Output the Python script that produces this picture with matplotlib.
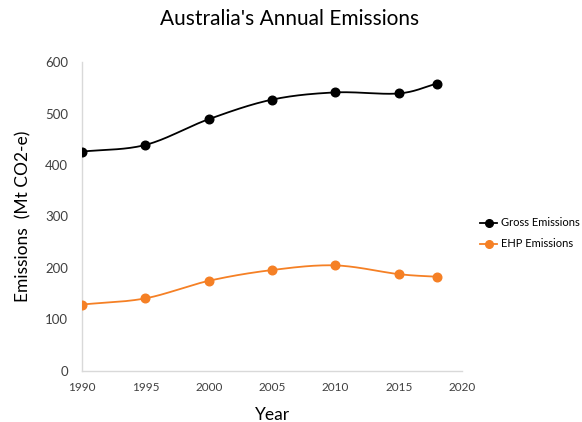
import numpy as np
import matplotlib
matplotlib.use("Agg")
import matplotlib.pyplot as plt

plt.rcParams['font.family'] = ['Lato', 'DejaVu Sans']

years = [1990, 1995, 2000, 2005, 2010, 2015, 2018]
gross = [426, 439, 489, 527, 541, 539, 558]
ehp = [129, 141, 175, 196, 205, 188, 183]

x_ticks = [1990, 1995, 2000, 2005, 2010, 2015, 2020]
y_ticks = [0, 100, 200, 300, 400, 500, 600]


def smooth(xs, ys, n=30):
    """Catmull-Rom curve through the points, like a spreadsheet's smoothed line."""
    xs = np.asarray(xs, float)
    ys = np.asarray(ys, float)
    px = np.concatenate([[2 * xs[0] - xs[1]], xs, [2 * xs[-1] - xs[-2]]])
    py = np.concatenate([[2 * ys[0] - ys[1]], ys, [2 * ys[-1] - ys[-2]]])
    ox, oy = [], []
    t = np.linspace(0, 1, n)
    for i in range(1, len(px) - 2):
        p0, p1, p2, p3 = [np.array([px[j], py[j]]) for j in (i - 1, i, i + 1, i + 2)]
        c1 = p1 + (p2 - p0) / 6
        c2 = p2 - (p3 - p1) / 6
        pts = ((1 - t)[:, None] ** 3 * p1 + 3 * ((1 - t) ** 2 * t)[:, None] * c1
               + 3 * ((1 - t) * t ** 2)[:, None] * c2 + (t ** 3)[:, None] * p2)
        ox.extend(pts[:, 0])
        oy.extend(pts[:, 1])
    return np.array(ox), np.array(oy)


fig = plt.figure(figsize=(5.82, 4.22), dpi=100)
ax = fig.add_axes([0.141, 0.121, 0.653, 0.732])

series = [("Gross Emissions", gross, "black"), ("EHP Emissions", ehp, "#F58025")]
for label, vals, col in series:
    sx, sy = smooth(years, vals)
    ax.plot(sx, sy, color=col, lw=1.3, zorder=2)
    ax.plot(years, vals, "o", color=col, ms=6.2, zorder=3)
    ax.plot([], [], "-o", color=col, ms=5.5, lw=1.3, label=label)

ax.set_xlim(1990, 2020)
ax.set_ylim(0, 600)
ax.set_xticks(x_ticks)
ax.set_yticks(y_ticks)
ax.tick_params(length=0, labelsize=9.5, colors="#404040")
ax.tick_params(axis="x", pad=8, labelsize=8.5)
ax.tick_params(axis="y", pad=10)
for s in ("top", "right"):
    ax.spines[s].set_visible(False)
for s in ("left", "bottom"):
    ax.spines[s].set_color("#d9d9d9")
    ax.spines[s].set_linewidth(1)

ax.set_xlabel("Year", fontsize=12.5, labelpad=10)
ax.set_ylabel("Emissions  (Mt CO2-e)", fontsize=12.5, labelpad=10)
fig.text(0.497, 0.955, "Australia's Annual Emissions", ha="center", va="center", fontsize=15)

ax.legend(loc="center left", bbox_to_anchor=(1.02, 0.445), frameon=False,
          fontsize=8, handlelength=1.6, handletextpad=0.3, labelspacing=0.9)

fig.savefig("out.png", dpi=100)
